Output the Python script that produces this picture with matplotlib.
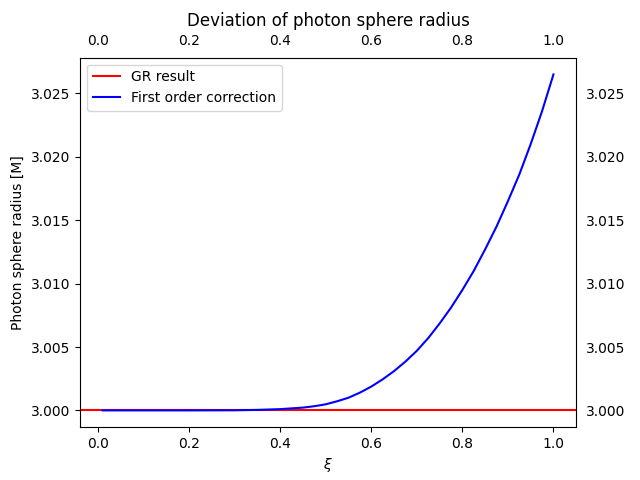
import numpy as np
import matplotlib
matplotlib.use("Agg")
import matplotlib.pyplot as plt

# values
xi = [0.01, 0.1, 0.2, 0.3, 0.35, 0.4, 0.45, 0.475, 0.5, 0.525, 0.55,
      0.575, 0.6, 0.625, 0.65, 0.675, 0.7, 0.725, 0.75, 0.775, 0.8,
      0.825, 0.85, 0.875, 0.9, 0.925, 0.95, 0.975, 1.0]
r_first = [3.0, 3.0, 3.0, 3.00001, 3.00004, 3.0001, 3.00022, 3.00033,
           3.00048, 3.00072, 3.0010, 3.0014, 3.00188, 3.00245, 3.0031,
           3.00385, 3.0047, 3.0057, 3.00685, 3.0081, 3.0095, 3.0110,
           3.0127, 3.0145, 3.0165, 3.0186, 3.0210, 3.0236, 3.0265]
r_gr = 3.0

fig, ax = plt.subplots(figsize=(6.4, 4.8), dpi=100)
ax.axhline(r_gr, color="red", label="GR result")
ax.plot(xi, r_first, color="blue", label="First order correction")
ax.tick_params(labeltop=True, labelright=True)
ax.set_xlabel(r"$\xi$")
ax.set_ylabel("Photon sphere radius [M]")
ax.set_title("Deviation of photon sphere radius")
ax.legend(loc="upper left")
fig.savefig("out.png")
